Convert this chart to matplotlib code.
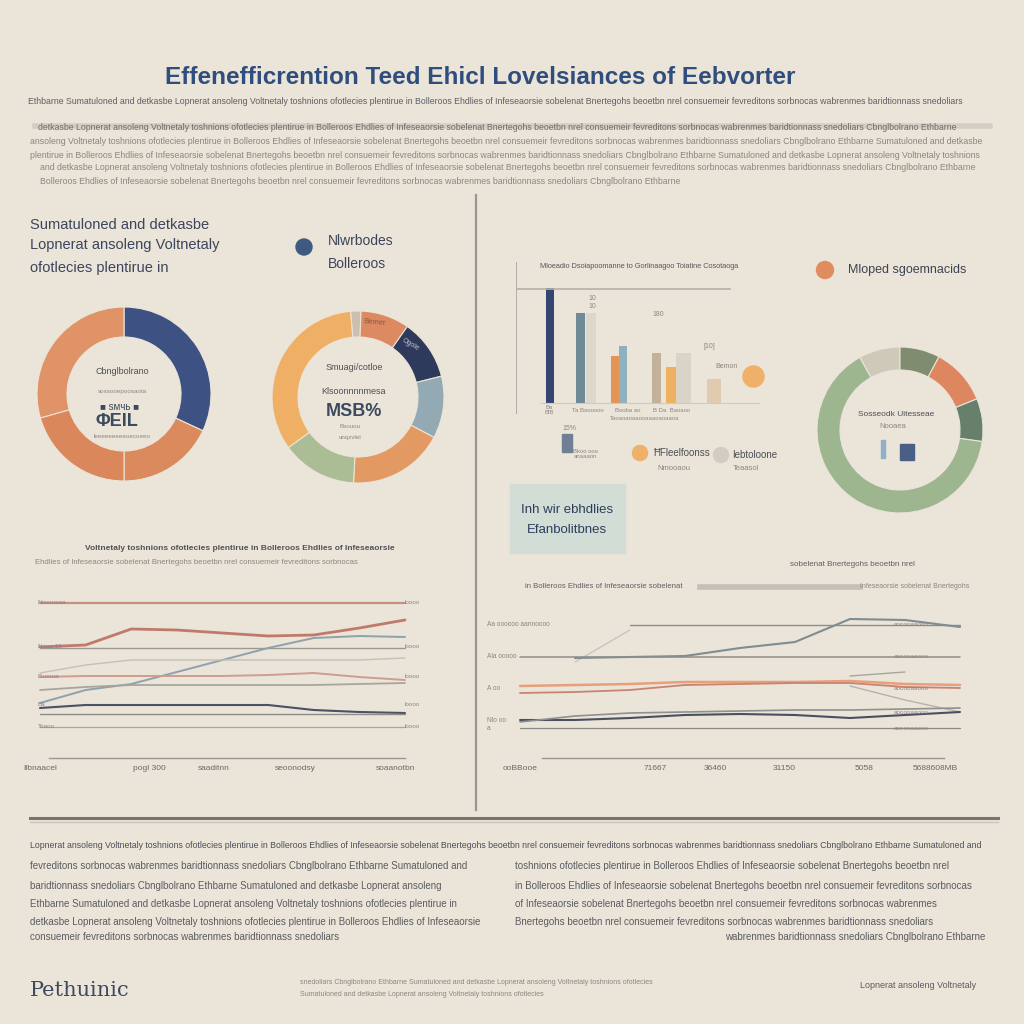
import numpy as np
import matplotlib
matplotlib.use("Agg")
import matplotlib.pyplot as plt
from matplotlib.lines import Line2D
from matplotlib.patches import Rectangle, Circle

plt.rcParams['font.family'] = ['Liberation Sans', 'DejaVu Sans']

# ---------------- data ----------------
title = "Effenefficrention Teed Ehicl Lovelsiances of Eebvorter"

donut1_vals = [115, 65, 74, 106]
donut1_cols = ['#3d5283', '#db8a5d', '#d9875b', '#df9366']

donut2_vals = [7, 33, 41, 42, 65, 51, 121]
donut2_cols = ['#cdbfb0', '#dd8a63', '#2e3a5c', '#93aab4', '#e39a62', '#aabd95', '#efb066']

donut3_vals = [29, 28, 40, 30, 233]
donut3_cols = ['#cfc9b9', '#7f8c70', '#dd8660', '#66806c', '#9db690']

bar_vals = [115, 90, 90, 47, 57, 50, 36, 50, 24]
bar_cols = ['#34466f', '#6f8a96', '#dcd6cb', '#e39555', '#8fb1bd',
            '#c2b29a', '#efb062', '#d9d3c8', '#e0cbb0']

# left line chart: 9 sample points each
left_series = {
    'coral_top': [157, 157, 157, 157, 157, 157, 157, 157, 157],
    'coral_wave': [113, 115, 131, 130, 127, 124, 125, 132, 140],
    'gray_mid': [112, 112, 112, 112, 112, 112, 112, 112, 112],
    'blue_rise': [57, 70, 76, 88, 100, 112, 122, 124, 123],
    'lgray': [87, 95, 100, 100, 100, 100, 100, 100, 102],
    'lcoral': [83, 84, 84, 84, 84, 85, 87, 83, 80],
    'tan': [70, 73, 75, 75, 75, 75, 75, 76, 77],
    'navy': [52, 55, 55, 55, 55, 55, 50, 48, 47],
    'gray_low': [46, 46, 46, 46, 46, 46, 46, 46, 46],
    'gray_base': [33, 33, 33, 33, 33, 33, 33, 33, 33],
}
left_styles = {
    'coral_top': ('#c98f80', 1.6), 'coral_wave': ('#c07a6c', 2.0),
    'gray_mid': ('#9a9994', 1.0), 'blue_rise': ('#8ea1ad', 1.4),
    'lgray': ('#c4c0b8', 1.0), 'lcoral': ('#d09c8e', 1.4),
    'tan': ('#aaa59a', 1.3), 'navy': ('#4a5264', 1.5),
    'gray_low': ('#8f8d88', 1.0), 'gray_base': ('#aaa7a0', 0.9),
}
left_xlabels = ['Ilbnaacel', 'pogl 300', 'saaditnn', 'seoonodsy', 'soaanotbn']

nan = np.nan
right_series = {
    'gray_top': [nan, nan, 135, 135, 135, 135, 135, 135, 135],
    'faint_diag': [nan, 98, 130, nan, nan, nan, nan, nan, nan],
    'sigmoid': [nan, 102, 103, 104, 112, 118, 141, 140, 133],
    'gray_mid': [103, 103, 103, 103, 103, 103, 103, 103, 103],
    'orange': [74, 75, 76, 78, 78, 78, 79, 76, 75],
    'coral': [67, 68, 70, 75, 76, 77, 77, 73, 72],
    'gray_up': [nan, nan, nan, nan, nan, nan, 84, 88, nan],
    'lgray_down': [nan, nan, nan, nan, nan, nan, 74, 60, 48],
    'navy': [40, 40, 42, 45, 46, 45, 42, 45, 48],
    'gray_low': [38, 44, 47, 48, 49, 50, 50, 51, 52],
    'gray_base': [32, 32, 32, 32, 32, 32, 32, 32, 32],
}
right_styles = {
    'gray_top': ('#8e8e88', 1.0), 'faint_diag': ('#c9c5bd', 1.0),
    'sigmoid': ('#7f8d90', 1.5), 'gray_mid': ('#8f8e88', 1.1),
    'orange': ('#e8a07c', 1.8), 'coral': ('#c98372', 1.3),
    'gray_up': ('#a9a59d', 1.0), 'lgray_down': ('#b7b3ab', 1.0),
    'navy': ('#4b5060', 1.5), 'gray_low': ('#8e918f', 1.2),
    'gray_base': ('#8c8a85', 0.9),
}
right_xlabels = ['ooBBooe', '71667', '36460', '31150', '5058', '5688608MB']

BG = '#ebe4d8'
INK = '#3b455c'
GRAY = '#8b877f'

WORDS = ["Ethbarne", "sobelenat", "Lopnerat", "consuemeir", "ofotlecies",
         "baridtionnass", "Ehdlies", "Sumatuloned", "Bnertegohs", "ansoleng",
         "fevreditons", "plentirue", "snedoliars", "of", "and", "beoetbn",
         "Voltnetaly", "sorbnocas", "in", "Cbnglbolrano", "Infeseaorsie",
         "detkasbe", "nrel", "toshnions", "wabrenmes", "Bolleroos"]

fig = plt.figure(figsize=(10.24, 10.24), dpi=100)
fig.patch.set_facecolor(BG)
renderer = fig.canvas.get_renderer()


def fx(x):
    return x / 1024.0


def fy(y):
    return 1 - y / 1024.0


def filler(x0, x1, y, size=6.5, color=GRAY, start=0, weight='normal', ha='left'):
    t = fig.text(fx(x0), fy(y), "", ha='left', fontsize=size, color=color,
                 weight=weight, va='center')
    s = ""
    i = start
    while True:
        cand = (s + " " + WORDS[(i * 7) % len(WORDS)]).strip()
        t.set_text(cand)
        if t.get_window_extent(renderer).width > (x1 - x0):
            break
        s = cand
        i += 1
    t.set_text(s)
    if ha == 'right':
        t.set_ha('right')
        t.set_x(fx(x1))
    return t


def hline(x0, x1, y, color, lw):
    fig.add_artist(Line2D([fx(x0), fx(x1)], [fy(y), fy(y)], color=color, lw=lw))


def vline(x, y0, y1, color, lw):
    fig.add_artist(Line2D([fx(x), fx(x)], [fy(y0), fy(y1)], color=color, lw=lw))


def dot(x, y, r, color):
    fig.add_artist(Circle((fx(x), fy(y)), r / 1024, color=color, transform=fig.transFigure))


def box(x0, y0, x1, y1, color):
    fig.add_artist(Rectangle((fx(x0), fy(y1)), (x1 - x0) / 1024, (y1 - y0) / 1024,
                             color=color, transform=fig.transFigure))


def px_axes(x0, y0, x1, y1):
    ax = fig.add_axes([fx(x0), fy(y1), fx(x1 - x0), (y1 - y0) / 1024.0])
    ax.set_facecolor('none')
    ax.axis('off')
    return ax


# ---------------- header ----------------
fig.text(fx(480), fy(78), title, ha='center', va='center', fontsize=17.5,
         weight='bold', color='#2f4e7e')
hline(35, 990, 126, '#d3cdc3', 4)
filler(28, 980, 102, 6.3, '#5d5f66', start=0)
filler(38, 990, 128, 6.3, '#6d6c68', start=3)
filler(30, 990, 141, 6.3, GRAY, start=5)
filler(30, 990, 155, 6.3, GRAY, start=9)
filler(40, 985, 168, 6.3, GRAY, start=2)
filler(40, 690, 181, 6.3, GRAY, start=11)

# dividers
vline(476, 195, 810, '#9c978e', 1.6)
hline(30, 998, 818, '#77746e', 2.2)
hline(30, 998, 822, '#c9c4ba', 1.0)

# ---------------- left top: text + donuts ----------------
filler(30, 258, 225, 10.5, INK, start=1)
filler(30, 250, 245, 10.5, INK, start=4)
filler(30, 188, 268, 10.5, INK, start=8)
dot(304, 247, 8, '#3f5a80')
fig.text(fx(328), fy(241), "Nlwrbodes", fontsize=10, color=INK, va='center')
fig.text(fx(328), fy(264), "Bolleroos", fontsize=10, color=INK, va='center')


def donut(cx, cy, r, inner, vals, cols, start):
    ax = px_axes(cx - r, cy - r, cx + r, cy + r)
    ax.pie(vals, colors=cols, startangle=start, counterclock=False, radius=1,
           wedgeprops=dict(width=(r - inner) / r, edgecolor=BG, linewidth=0.8))
    ax.set_xlim(-1, 1)
    ax.set_ylim(-1, 1)
    ax.set_aspect('equal')
    return ax


donut(124, 394, 87, 57, donut1_vals, donut1_cols, 90)
fig.text(fx(122), fy(372), "Cbnglbolrano", fontsize=6.5, color='#4c4f58', ha='center', va='center')
fig.text(fx(122), fy(392), "sossooepoosaota", fontsize=4.5, color=GRAY, ha='center', va='center')
fig.text(fx(120), fy(407), "■ ѕмчь ■", fontsize=7, color='#3b4a5e', ha='center', va='center')
fig.text(fx(117), fy(421), "ΦEIL", fontsize=13, color='#3b4a5e', ha='center', va='center', weight='bold')
fig.text(fx(122), fy(436), "leeeeeeeeeoecoeeo", fontsize=4.5, color=GRAY, ha='center', va='center')

donut(358, 397, 86, 60, donut2_vals, donut2_cols, 95)
fig.text(fx(354), fy(367), "Smuagi/cotloe", fontsize=6.5, color='#4c4f58', ha='center', va='center')
fig.text(fx(354), fy(392), "Klsoonnnnmesa", fontsize=6.5, color='#4c4f58', ha='center', va='center')
fig.text(fx(354), fy(412), "MSB%", fontsize=13, color='#3b4a5e', ha='center', va='center', weight='bold')
fig.text(fx(350), fy(427), "Bsouou", fontsize=4.5, color=GRAY, ha='center', va='center')
fig.text(fx(350), fy(437), "unqzvlel", fontsize=4.5, color=GRAY, ha='center', va='center')
fig.text(fx(375), fy(322), "Bemer", fontsize=5.5, color='#8c5640', ha='center', va='center', rotation=-5)
fig.text(fx(410), fy(345), "Ogole", fontsize=5, color='#c2c5cc', ha='center', va='center', rotation=-30)

# ---------------- right top: bar chart ----------------
bar_left = [30, 60, 70, 95, 103, 136, 150, 160, 191]
bar_w = [8, 9, 10, 8, 8, 9, 11, 15, 14]
axb = px_axes(516, 262, 760, 414)
axb.set_xlim(0, 244)
axb.set_ylim(-11, 141)
axb.bar(bar_left, bar_vals, width=bar_w, color=bar_cols, align='edge')
axb.plot([0, 0], [-11, 141], color='#a8a49c', lw=1.2)
axb.plot([0, 214], [114, 114], color='#b6b1a8', lw=1.2)
axb.plot([24, 244], [0, 0], color='#d0cbc1', lw=0.8)
axb.scatter([237], [27], s=230, color='#efb06a', zorder=3, clip_on=False)
fig.text(fx(540), fy(266), "Mloeadio Dsoiapoomanne to Gorlinaagoo Toiatine Cosotaoga",
         fontsize=5.3, color='#555860', va='center')
for (lx, ly, lt) in [(592, 302, "10\n10"), (658, 314, "180"), (709, 346, "[10]"),
                     (727, 366, "Bemon")]:
    fig.text(fx(lx), fy(ly), lt, fontsize=5, color=GRAY, ha='center', va='center')
for (lx, lt) in [(549, "Ba\nBlB"), (588, "Ta Baooooo"), (628, "Booba ao"),
                 (672, "B Da  Baoaoo")]:
    fig.text(fx(lx), fy(410), lt, fontsize=4.3, color=GRAY, ha='center', va='center')
fig.text(fx(645), fy(418), "Taoaoaoaaooaaaoaoaaoa", fontsize=4.3, color=GRAY, ha='center', va='center')
# small side bar + legend
box(562, 434, 572, 452, '#6f8094')
fig.text(fx(569), fy(429), "15%", fontsize=5, color=GRAY, ha='center', va='center')
fig.text(fx(585), fy(454), "Bkoo ooo\nanaaaon", fontsize=4.3, color=GRAY, ha='center', va='center')
dot(640, 453, 7.5, '#efb06a')
dot(721, 455, 7.5, '#d2ccc2')
fig.text(fx(654), fy(453), "ĦFleelfoonss", fontsize=7, color='#4c4f58', va='center')
fig.text(fx(732), fy(455), "Iebtoloone", fontsize=7, color='#4c4f58', va='center')
fig.text(fx(657), fy(468), "Nmooaou", fontsize=5.5, color=GRAY, va='center')
fig.text(fx(733), fy(468), "Teaasol", fontsize=5.5, color=GRAY, va='center')

# top right legend + donut 3
dot(825, 270, 8.5, '#df8d5f')
fig.text(fx(848), fy(270), "Mloped sgoemnacids", fontsize=9, color='#3e4352', va='center')
donut(900, 430, 83, 60, donut3_vals, donut3_cols, 119)
fig.text(fx(896), fy(415), "Sosseodk Uitesseae", fontsize=6, color='#4c4f58', ha='center', va='center')
fig.text(fx(893), fy(427), "Nooaea", fontsize=5.5, color=GRAY, ha='center', va='center')
box(881, 440, 885, 458, '#8fb0c8')
box(900, 444, 914, 460, '#4a5f86')

# teal box
box(510, 484, 625, 553, '#d2ddd5')
fig.text(fx(567), fy(510), "Inh wir ebhdlies", fontsize=9.5, color='#2e3d5c', ha='center', va='center')
fig.text(fx(567), fy(530), "Efanbolitbnes", fontsize=9.5, color='#2e3d5c', ha='center', va='center')

# ---------------- bottom left line chart ----------------
filler(85, 400, 548, 6.0, '#50525a', start=6, weight='bold')
filler(35, 385, 563, 5.6, GRAY, start=12)
axl = px_axes(30, 595, 415, 775)
xl = np.arange(9)
axl.set_xlim((30 - 40) / 45.625, (415 - 40) / 45.625)
axl.set_ylim(-15, 165)
for name, vals in left_series.items():
    c, lw = left_styles[name]
    axl.plot(xl, vals, color=c, lw=lw, solid_capstyle='round')
axl.plot([0.2, 8.0], [2, 2], color='#9a968e', lw=1.0)
for lx, lt in zip([0, 2.4, 3.8, 5.6, 7.8], left_xlabels):
    axl.text(lx, -8, lt, fontsize=6, color='#6b6a66', ha='center', va='center')
for vy, lt in [(157, "Nesonaaa"), (113, "Nooa 15"), (84, "Booooa"), (55, "Ba"), (33, "Toaoo")]:
    axl.text(-0.05, vy, lt, fontsize=4.5, color=GRAY, ha='left', va='center')
    axl.text(8.0, vy, "loooo", fontsize=4.5, color=GRAY, ha='left', va='center')

# ---------------- bottom right line chart ----------------
filler(790, 952, 565, 5.8, '#5d5f66', start=15)
hline(700, 860, 587, '#c4c0b7', 4)
filler(525, 700, 587, 5.6, '#5d5f66', start=10)
filler(860, 970, 587, 5.0, GRAY, start=14)
axr = px_axes(505, 595, 975, 775)
xr = np.arange(9)
axr.set_xlim((505 - 520) / 55.0, (975 - 520) / 55.0)
axr.set_ylim(-15, 165)
for name, vals in right_series.items():
    c, lw = right_styles[name]
    axr.plot(xr, vals, color=c, lw=lw, solid_capstyle='round')
axr.plot([0.4, 7.7], [2, 2], color='#9a968e', lw=1.0)
for lx, lt in zip([0.0, 2.45, 3.55, 4.8, 6.25, 7.55], right_xlabels):
    axr.text(lx, -8, lt, fontsize=6, color='#6b6a66', ha='center', va='center')
for vy, lt in [(135, "Aa oooooo aannoooo"), (103, "Ala ooooo"), (72, "A oo"), (40, "Nlo oo"), (32, "a")]:
    axr.text(-0.6, vy, lt, fontsize=4.8, color=GRAY, ha='left', va='center')
for vy in [135, 103, 72, 48, 32]:
    axr.text(6.8, vy, "aooooaaooo", fontsize=4.5, color=GRAY, ha='left', va='center')

# ---------------- footer text ----------------
filler(30, 990, 845, 6.3, '#4c4f58', start=4)
for i, y in enumerate([866, 886, 904, 922]):
    filler(30, 485, y, 7.0, '#5a5c62', start=20 + i * 3)
    filler(515, 990, y, 7.0, '#5a5c62', start=33 + i * 3)
filler(30, 362, 937, 7.0, '#5a5c62', start=45)
filler(710, 985, 937, 7.0, '#5a5c62', start=48, ha='right')

fig.text(fx(30), fy(990), "Pethuinic", fontsize=15, color='#3b4a5e', va='center',
         family='DejaVu Serif')
filler(300, 660, 983, 5.0, GRAY, start=50)
filler(300, 560, 995, 5.0, GRAY, start=53)
filler(860, 995, 985, 6.5, '#5a5c62', start=56)

fig.savefig('out.png', dpi=100, facecolor=BG)
